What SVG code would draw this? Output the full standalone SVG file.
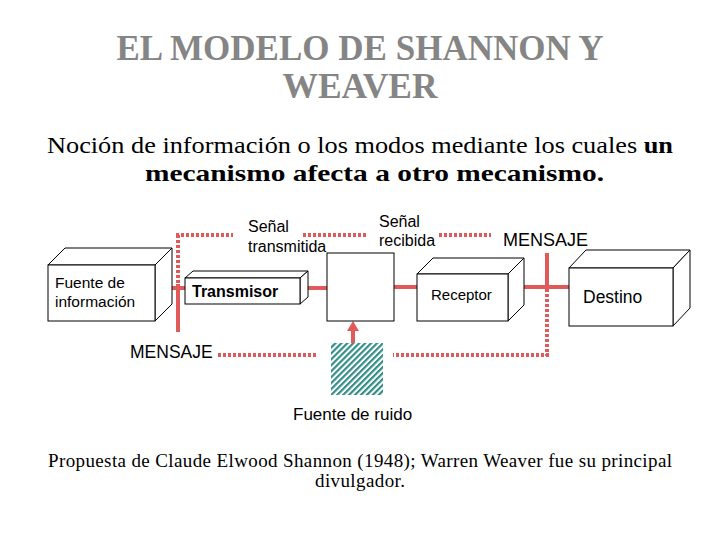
<svg xmlns="http://www.w3.org/2000/svg" width="720" height="540" viewBox="0 0 720 540">
<defs>
<style>
.box{fill:#fff;stroke:#000;stroke-width:1;stroke-linejoin:miter}
.lbl{font-family:"Liberation Sans",Arial,sans-serif;fill:#000}
.ser{font-family:"Liberation Serif","Times New Roman",serif}
.solid{stroke:#e05a5a;stroke-width:4;fill:none}
.dot{stroke:#e05a5a;stroke-width:4;fill:none;stroke-dasharray:3 2}
</style>
<pattern id="hatch" width="4.2" height="4.2" patternUnits="userSpaceOnUse" patternTransform="rotate(45)">
<rect width="4.2" height="4.2" fill="#fff"/>
<line x1="1.1" y1="0" x2="1.1" y2="4.2" stroke="#2a8a84" stroke-width="2.1"/>
</pattern>
</defs>
<rect width="720" height="540" fill="#fff"/>

<g id="title">
<text class="ser" x="360" y="60" text-anchor="middle" font-size="35" font-weight="bold" fill="#858585" textLength="487" lengthAdjust="spacingAndGlyphs">EL MODELO DE SHANNON Y</text>
<text class="ser" x="360" y="98" text-anchor="middle" font-size="35" font-weight="bold" fill="#858585" textLength="155" lengthAdjust="spacingAndGlyphs">WEAVER</text>
</g>
<g id="subtitle">
<text class="ser" x="47" y="153" font-size="23" fill="#000" textLength="626" lengthAdjust="spacingAndGlyphs">Noción de información o los modos mediante los cuales <tspan font-weight="bold">un</tspan></text>
<text class="ser" x="145" y="181" font-size="23" font-weight="bold" fill="#000" textLength="459" lengthAdjust="spacingAndGlyphs">mecanismo afecta a otro mecanismo.</text>
</g>

<g id="connectors">
<line class="dot" x1="178" y1="235" x2="178" y2="285"/>
<line class="solid" x1="178" y1="284" x2="178" y2="332"/>
<line class="solid" x1="167" y1="288" x2="187" y2="288"/>
<line class="dot" x1="176" y1="235" x2="233" y2="235"/>
<line class="dot" x1="303" y1="235" x2="366" y2="235"/>
<line class="dot" x1="439" y1="235" x2="491" y2="235"/>
<line class="solid" x1="303" y1="288" x2="327" y2="288"/>
<line class="solid" x1="394" y1="287" x2="417" y2="287"/>
<line class="solid" x1="516" y1="287" x2="569" y2="287"/>
<line class="solid" x1="547" y1="253" x2="547" y2="287"/>
<line class="dot" x1="547" y1="289" x2="547" y2="356"/>
<line class="dot" x1="549" y1="355" x2="393" y2="355"/>
<line class="dot" x1="218" y1="355" x2="318" y2="355"/>
<line class="solid" x1="353" y1="343" x2="353" y2="329"/>
<polygon points="347,331 359,331 353,321" fill="#e05a5a"/>
</g>

<g id="fuente">
<polygon class="box" points="48,265 65,248 172,248 155,265"/>
<polygon class="box" points="155,265 172,248 172,304 155,321"/>
<rect class="box" x="48" y="265" width="107" height="56"/>
<text class="lbl" x="55" y="288" font-size="15.5">Fuente de</text>
<text class="lbl" x="55" y="307" font-size="15.5">información</text>
</g>

<g id="transmisor">
<polygon class="box" points="185,278 193,271 308,271 300,278"/>
<polygon class="box" points="300,278 308,271 308,297 300,304"/>
<rect class="box" x="185" y="278" width="115" height="26"/>
<text class="lbl" x="192" y="297" font-size="16" font-weight="bold">Transmisor</text>
</g>

<g id="canal">
<rect class="box" x="327" y="253" width="67" height="68"/>
</g>

<g id="ruido">
<rect x="331" y="343" width="52" height="52" fill="url(#hatch)"/>
<text class="lbl" x="293" y="420" font-size="17">Fuente de ruido</text>
</g>

<g id="receptor">
<polygon class="box" points="417,274 433,258 524,258 508,274"/>
<polygon class="box" points="508,274 524,258 524,305 508,321"/>
<rect class="box" x="417" y="274" width="91" height="47"/>
<text class="lbl" x="431" y="300" font-size="15">Receptor</text>
</g>

<g id="destino">
<polygon class="box" points="569,268 586,250 690,250 673,268"/>
<polygon class="box" points="673,268 690,250 690,308 673,326"/>
<rect class="box" x="569" y="268" width="104" height="58"/>
<text class="lbl" x="583" y="303" font-size="17.5">Destino</text>
</g>

<g id="labels">
<text class="lbl" x="248" y="232" font-size="16">Señal</text>
<text class="lbl" x="248" y="252" font-size="16">transmitida</text>
<text class="lbl" x="379" y="227" font-size="16">Señal</text>
<text class="lbl" x="379" y="246" font-size="16">recibida</text>
<text class="lbl" x="503" y="246" font-size="18">MENSAJE</text>
<text class="lbl" x="130" y="358" font-size="17.5">MENSAJE</text>
</g>

<g id="footer">
<text class="ser" x="48" y="467" font-size="19" fill="#000" textLength="624" lengthAdjust="spacing">Propuesta de Claude Elwood Shannon (1948); Warren Weaver fue su principal</text>
<text class="ser" x="315" y="487" font-size="19" fill="#000" textLength="90" lengthAdjust="spacing">divulgador.</text>
</g>
</svg>
